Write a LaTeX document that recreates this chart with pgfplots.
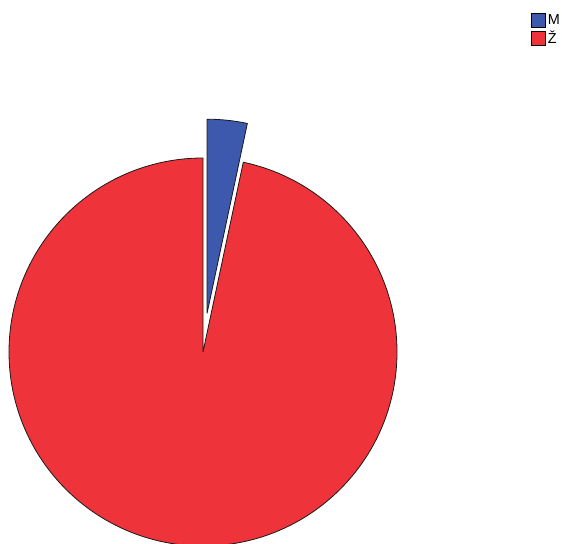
\documentclass[border=0pt]{standalone}
\usepackage{pgfplots}
\pgfplotsset{compat=1.18}
\usepackage{pgfplotstable}
\usepackage{fontspec}
\setmainfont{Liberation Sans}

\definecolor{mblue}{RGB}{61,89,174}
\definecolor{zred}{RGB}{239,51,59}

% share of each group, in percent
\pgfplotstableread{
label value
M 3.33
Z 96.67
}\piedata
\pgfplotstablegetelem{0}{value}\of\piedata \let\valM\pgfplotsretval
\pgfplotstablegetelem{1}{value}\of\piedata \let\valZ\pgfplotsretval

\begin{document}
\begin{tikzpicture}
\begin{axis}[
    scale only axis,
    width=562bp, height=544bp,
    xmin=0, xmax=562, ymin=0, ymax=544,
    hide axis,
    clip bounding box=upper bound,
    legend style={at={(axis cs:531,532)}, anchor=north west,
      draw=none, fill=none, inner sep=0pt, row sep=1.5bp,
      font=\fontsize{14.5}{15}\selectfont,
      cells={anchor=west, inner xsep=1.2bp, inner ysep=0bp}},
    legend cell align=left,
    legend image code/.code={\draw[#1] (0bp,-7bp) rectangle (14bp,7bp);},
  ]
  \addlegendimage{fill=mblue, draw=black, line width=0.7pt}
  \addlegendentry{M}
  \addlegendimage{fill=zred, draw=black, line width=0.7pt}
  \addlegendentry{Ž}

  \pgfmathsetmacro\angM{360*\valM/(\valM+\valZ)}
  \pgfmathsetmacro\aEnd{90-\angM}
  \pgfmathsetmacro\aMid{90-\angM/2}
  \pgfmathsetmacro\aFull{360+\aEnd}
  % Z slice
  \draw[fill=zred, draw=black!90, line width=0.8pt, line join=round]
    (axis cs:203,192) -- ++(90:194bp)
    arc[start angle=90, end angle=\aFull, radius=194bp] -- cycle;
  % M slice, pulled out
  \draw[fill=mblue, draw=black!90, line width=0.8pt, line join=round]
    ([shift={(\aMid:39bp)}]axis cs:203,192) -- ++(\aEnd:194bp)
    arc[start angle=\aEnd, end angle=90, radius=194bp] -- cycle;
\end{axis}
\pgfresetboundingbox
\path (current axis.south west) rectangle (current axis.north east);
\end{tikzpicture}
\end{document}
